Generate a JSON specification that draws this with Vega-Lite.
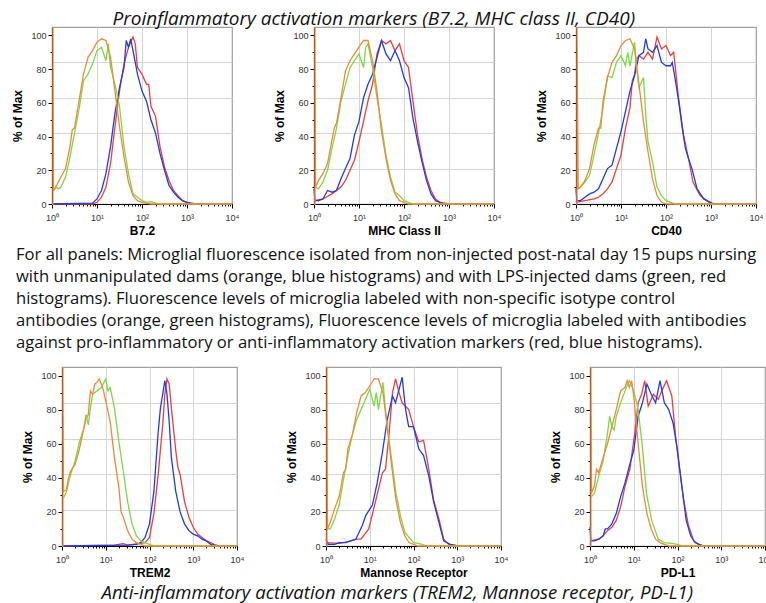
{
"$schema": "https://vega.github.io/schema/vega-lite/v6.json",
"padding": {"left": 10, "top": 9, "right": 0, "bottom": 0},
"background": "white",
"config": {
  "view": {"stroke": "#a0a0a0", "strokeWidth": 1.2},
  "axis": {"labelFont": "Liberation Sans", "labelFontSize": 9, "labelColor": "#333333", "titleFont": "Liberation Sans", "titleFontWeight": "bold", "titleFontSize": 12, "titleColor": "#000000", "domainColor": "#000000", "tickColor": "#000000", "gridColor": "#d4d4d4", "domainWidth": 1, "tickWidth": 1},
  "line": {"strokeWidth": 1.3, "clip": true}
},
"datasets": {"h": [
{"panel":"B7.2","series":"red","x":1,"y":0},{"panel":"B7.2","series":"red","x":7.94,"y":0},{"panel":"B7.2","series":"red","x":10,"y":1},{"panel":"B7.2","series":"red","x":12.6,"y":4},{"panel":"B7.2","series":"red","x":15.8,"y":10},{"panel":"B7.2","series":"red","x":20,"y":24},{"panel":"B7.2","series":"red","x":25.1,"y":46},{"panel":"B7.2","series":"red","x":31.6,"y":67},{"panel":"B7.2","series":"red","x":39.8,"y":83},{"panel":"B7.2","series":"red","x":50.1,"y":93},{"panel":"B7.2","series":"red","x":63.1,"y":99},{"panel":"B7.2","series":"red","x":70.8,"y":95},{"panel":"B7.2","series":"red","x":79.4,"y":81},{"panel":"B7.2","series":"red","x":100,"y":77},{"panel":"B7.2","series":"red","x":126,"y":71},{"panel":"B7.2","series":"red","x":141,"y":71},{"panel":"B7.2","series":"red","x":158,"y":58},{"panel":"B7.2","series":"red","x":200,"y":52},{"panel":"B7.2","series":"red","x":251,"y":34},{"panel":"B7.2","series":"red","x":316,"y":22},{"panel":"B7.2","series":"red","x":398,"y":14},{"panel":"B7.2","series":"red","x":501,"y":8},{"panel":"B7.2","series":"red","x":631,"y":5},{"panel":"B7.2","series":"red","x":794,"y":2},{"panel":"B7.2","series":"red","x":1000,"y":1},{"panel":"B7.2","series":"red","x":1259,"y":0},{"panel":"B7.2","series":"red","x":10000,"y":0},
{"panel":"B7.2","series":"blue","x":1,"y":0},{"panel":"B7.2","series":"blue","x":7.94,"y":0.5},{"panel":"B7.2","series":"blue","x":10,"y":3},{"panel":"B7.2","series":"blue","x":12.6,"y":8},{"panel":"B7.2","series":"blue","x":15.8,"y":18},{"panel":"B7.2","series":"blue","x":20,"y":34},{"panel":"B7.2","series":"blue","x":25.1,"y":54},{"panel":"B7.2","series":"blue","x":31.6,"y":69},{"panel":"B7.2","series":"blue","x":39.8,"y":81},{"panel":"B7.2","series":"blue","x":44.7,"y":97},{"panel":"B7.2","series":"blue","x":50.1,"y":93},{"panel":"B7.2","series":"blue","x":56.2,"y":98},{"panel":"B7.2","series":"blue","x":63.1,"y":91},{"panel":"B7.2","series":"blue","x":79.4,"y":77},{"panel":"B7.2","series":"blue","x":100,"y":67},{"panel":"B7.2","series":"blue","x":126,"y":61},{"panel":"B7.2","series":"blue","x":158,"y":50},{"panel":"B7.2","series":"blue","x":200,"y":42},{"panel":"B7.2","series":"blue","x":251,"y":30},{"panel":"B7.2","series":"blue","x":316,"y":20},{"panel":"B7.2","series":"blue","x":398,"y":11},{"panel":"B7.2","series":"blue","x":501,"y":7},{"panel":"B7.2","series":"blue","x":631,"y":4},{"panel":"B7.2","series":"blue","x":794,"y":2},{"panel":"B7.2","series":"blue","x":1000,"y":1},{"panel":"B7.2","series":"blue","x":1259,"y":0.5},{"panel":"B7.2","series":"blue","x":1585,"y":0},{"panel":"B7.2","series":"blue","x":10000,"y":0},
{"panel":"B7.2","series":"green","x":1.08,"y":8},{"panel":"B7.2","series":"green","x":1.26,"y":10},{"panel":"B7.2","series":"green","x":1.41,"y":9},{"panel":"B7.2","series":"green","x":1.58,"y":10},{"panel":"B7.2","series":"green","x":2,"y":16},{"panel":"B7.2","series":"green","x":2.51,"y":28},{"panel":"B7.2","series":"green","x":3.16,"y":42},{"panel":"B7.2","series":"green","x":3.98,"y":56},{"panel":"B7.2","series":"green","x":5.01,"y":73},{"panel":"B7.2","series":"green","x":6.31,"y":77},{"panel":"B7.2","series":"green","x":7.94,"y":83},{"panel":"B7.2","series":"green","x":10,"y":91},{"panel":"B7.2","series":"green","x":12.6,"y":93},{"panel":"B7.2","series":"green","x":15.8,"y":85},{"panel":"B7.2","series":"green","x":17.8,"y":95},{"panel":"B7.2","series":"green","x":20,"y":81},{"panel":"B7.2","series":"green","x":25.1,"y":71},{"panel":"B7.2","series":"green","x":31.6,"y":58},{"panel":"B7.2","series":"green","x":39.8,"y":34},{"panel":"B7.2","series":"green","x":50.1,"y":18},{"panel":"B7.2","series":"green","x":63.1,"y":6},{"panel":"B7.2","series":"green","x":79.4,"y":4},{"panel":"B7.2","series":"green","x":100,"y":2},{"panel":"B7.2","series":"green","x":126,"y":1},{"panel":"B7.2","series":"green","x":158,"y":1.4},{"panel":"B7.2","series":"green","x":200,"y":0.5},{"panel":"B7.2","series":"green","x":251,"y":0},{"panel":"B7.2","series":"green","x":10000,"y":0},
{"panel":"B7.2","series":"orange","x":1,"y":0},{"panel":"B7.2","series":"orange","x":1.05,"y":0},{"panel":"B7.2","series":"orange","x":1.05,"y":105},{"panel":"B7.2","series":"orange","x":1.08,"y":8},{"panel":"B7.2","series":"orange","x":1.26,"y":11},{"panel":"B7.2","series":"orange","x":1.58,"y":16},{"panel":"B7.2","series":"orange","x":2,"y":21},{"panel":"B7.2","series":"orange","x":2.51,"y":34},{"panel":"B7.2","series":"orange","x":2.82,"y":44},{"panel":"B7.2","series":"orange","x":3.16,"y":45},{"panel":"B7.2","series":"orange","x":3.98,"y":61},{"panel":"B7.2","series":"orange","x":5.01,"y":77},{"panel":"B7.2","series":"orange","x":6.31,"y":87},{"panel":"B7.2","series":"orange","x":7.94,"y":91},{"panel":"B7.2","series":"orange","x":10,"y":96},{"panel":"B7.2","series":"orange","x":12.6,"y":98},{"panel":"B7.2","series":"orange","x":15.8,"y":97},{"panel":"B7.2","series":"orange","x":20,"y":87},{"panel":"B7.2","series":"orange","x":25.1,"y":67},{"panel":"B7.2","series":"orange","x":31.6,"y":46},{"panel":"B7.2","series":"orange","x":39.8,"y":28},{"panel":"B7.2","series":"orange","x":50.1,"y":13},{"panel":"B7.2","series":"orange","x":63.1,"y":5},{"panel":"B7.2","series":"orange","x":79.4,"y":2},{"panel":"B7.2","series":"orange","x":100,"y":1},{"panel":"B7.2","series":"orange","x":158,"y":0},{"panel":"B7.2","series":"orange","x":10000,"y":0},

{"panel":"MHC","series":"red","x":1,"y":2},{"panel":"MHC","series":"red","x":1.58,"y":3},{"panel":"MHC","series":"red","x":2.51,"y":6},{"panel":"MHC","series":"red","x":3.98,"y":10},{"panel":"MHC","series":"red","x":5.01,"y":14},{"panel":"MHC","series":"red","x":6.31,"y":20},{"panel":"MHC","series":"red","x":7.94,"y":26},{"panel":"MHC","series":"red","x":10,"y":37},{"panel":"MHC","series":"red","x":12.6,"y":49},{"panel":"MHC","series":"red","x":15.8,"y":61},{"panel":"MHC","series":"red","x":20,"y":71},{"panel":"MHC","series":"red","x":25.1,"y":89},{"panel":"MHC","series":"red","x":31.6,"y":97},{"panel":"MHC","series":"red","x":39.8,"y":95},{"panel":"MHC","series":"red","x":50.1,"y":97},{"panel":"MHC","series":"red","x":63.1,"y":91},{"panel":"MHC","series":"red","x":79.4,"y":95},{"panel":"MHC","series":"red","x":100,"y":85},{"panel":"MHC","series":"red","x":126,"y":81},{"panel":"MHC","series":"red","x":158,"y":61},{"panel":"MHC","series":"red","x":200,"y":41},{"panel":"MHC","series":"red","x":251,"y":27},{"panel":"MHC","series":"red","x":316,"y":16},{"panel":"MHC","series":"red","x":398,"y":8},{"panel":"MHC","series":"red","x":501,"y":3},{"panel":"MHC","series":"red","x":631,"y":1},{"panel":"MHC","series":"red","x":1000,"y":0},{"panel":"MHC","series":"red","x":10000,"y":0},
{"panel":"MHC","series":"blue","x":1,"y":9},{"panel":"MHC","series":"blue","x":1.05,"y":2},{"panel":"MHC","series":"blue","x":1.26,"y":2},{"panel":"MHC","series":"blue","x":1.58,"y":3},{"panel":"MHC","series":"blue","x":2,"y":8},{"panel":"MHC","series":"blue","x":2.51,"y":7},{"panel":"MHC","series":"blue","x":3.16,"y":8},{"panel":"MHC","series":"blue","x":3.98,"y":15},{"panel":"MHC","series":"blue","x":5.01,"y":21},{"panel":"MHC","series":"blue","x":6.31,"y":27},{"panel":"MHC","series":"blue","x":7.94,"y":41},{"panel":"MHC","series":"blue","x":10,"y":49},{"panel":"MHC","series":"blue","x":12.6,"y":63},{"panel":"MHC","series":"blue","x":15.8,"y":71},{"panel":"MHC","series":"blue","x":20,"y":77},{"panel":"MHC","series":"blue","x":25.1,"y":87},{"panel":"MHC","series":"blue","x":31.6,"y":97},{"panel":"MHC","series":"blue","x":39.8,"y":89},{"panel":"MHC","series":"blue","x":50.1,"y":85},{"panel":"MHC","series":"blue","x":63.1,"y":91},{"panel":"MHC","series":"blue","x":79.4,"y":85},{"panel":"MHC","series":"blue","x":100,"y":75},{"panel":"MHC","series":"blue","x":126,"y":69},{"panel":"MHC","series":"blue","x":158,"y":51},{"panel":"MHC","series":"blue","x":200,"y":37},{"panel":"MHC","series":"blue","x":251,"y":25},{"panel":"MHC","series":"blue","x":316,"y":14},{"panel":"MHC","series":"blue","x":398,"y":6},{"panel":"MHC","series":"blue","x":501,"y":2},{"panel":"MHC","series":"blue","x":631,"y":1},{"panel":"MHC","series":"blue","x":794,"y":0},{"panel":"MHC","series":"blue","x":10000,"y":0},
{"panel":"MHC","series":"green","x":1.08,"y":10},{"panel":"MHC","series":"green","x":1.26,"y":9},{"panel":"MHC","series":"green","x":1.58,"y":13},{"panel":"MHC","series":"green","x":2,"y":20},{"panel":"MHC","series":"green","x":2.51,"y":33},{"panel":"MHC","series":"green","x":3.16,"y":45},{"panel":"MHC","series":"green","x":3.98,"y":61},{"panel":"MHC","series":"green","x":5.01,"y":71},{"panel":"MHC","series":"green","x":6.31,"y":81},{"panel":"MHC","series":"green","x":7.94,"y":85},{"panel":"MHC","series":"green","x":10,"y":89},{"panel":"MHC","series":"green","x":12.6,"y":81},{"panel":"MHC","series":"green","x":14.1,"y":93},{"panel":"MHC","series":"green","x":15.8,"y":95},{"panel":"MHC","series":"green","x":20,"y":81},{"panel":"MHC","series":"green","x":25.1,"y":63},{"panel":"MHC","series":"green","x":31.6,"y":47},{"panel":"MHC","series":"green","x":39.8,"y":29},{"panel":"MHC","series":"green","x":50.1,"y":16},{"panel":"MHC","series":"green","x":63.1,"y":7},{"panel":"MHC","series":"green","x":79.4,"y":5},{"panel":"MHC","series":"green","x":100,"y":2},{"panel":"MHC","series":"green","x":126,"y":1},{"panel":"MHC","series":"green","x":158,"y":0},{"panel":"MHC","series":"green","x":10000,"y":0},
{"panel":"MHC","series":"orange","x":1,"y":0},{"panel":"MHC","series":"orange","x":1.05,"y":0},{"panel":"MHC","series":"orange","x":1.05,"y":105},{"panel":"MHC","series":"orange","x":1.08,"y":10},{"panel":"MHC","series":"orange","x":1.26,"y":14},{"panel":"MHC","series":"orange","x":1.58,"y":18},{"panel":"MHC","series":"orange","x":2,"y":24},{"panel":"MHC","series":"orange","x":2.51,"y":38},{"panel":"MHC","series":"orange","x":2.82,"y":45},{"panel":"MHC","series":"orange","x":3.16,"y":48},{"panel":"MHC","series":"orange","x":3.98,"y":63},{"panel":"MHC","series":"orange","x":5.01,"y":79},{"panel":"MHC","series":"orange","x":6.31,"y":85},{"panel":"MHC","series":"orange","x":7.94,"y":89},{"panel":"MHC","series":"orange","x":10,"y":93},{"panel":"MHC","series":"orange","x":12.6,"y":97},{"panel":"MHC","series":"orange","x":15.8,"y":97},{"panel":"MHC","series":"orange","x":20,"y":85},{"panel":"MHC","series":"orange","x":25.1,"y":67},{"panel":"MHC","series":"orange","x":31.6,"y":43},{"panel":"MHC","series":"orange","x":39.8,"y":27},{"panel":"MHC","series":"orange","x":50.1,"y":14},{"panel":"MHC","series":"orange","x":63.1,"y":6},{"panel":"MHC","series":"orange","x":79.4,"y":2},{"panel":"MHC","series":"orange","x":100,"y":1},{"panel":"MHC","series":"orange","x":126,"y":0},{"panel":"MHC","series":"orange","x":10000,"y":0},

{"panel":"CD40","series":"red","x":1,"y":1},{"panel":"CD40","series":"red","x":1.58,"y":2},{"panel":"CD40","series":"red","x":2.51,"y":3},{"panel":"CD40","series":"red","x":3.16,"y":4},{"panel":"CD40","series":"red","x":3.98,"y":6},{"panel":"CD40","series":"red","x":5.01,"y":9},{"panel":"CD40","series":"red","x":6.31,"y":13},{"panel":"CD40","series":"red","x":7.94,"y":21},{"panel":"CD40","series":"red","x":10,"y":29},{"panel":"CD40","series":"red","x":12.6,"y":45},{"panel":"CD40","series":"red","x":15.8,"y":57},{"panel":"CD40","series":"red","x":17.8,"y":73},{"panel":"CD40","series":"red","x":20,"y":77},{"panel":"CD40","series":"red","x":22.4,"y":86},{"panel":"CD40","series":"red","x":25.1,"y":88},{"panel":"CD40","series":"red","x":31.6,"y":86},{"panel":"CD40","series":"red","x":39.8,"y":90},{"panel":"CD40","series":"red","x":50.1,"y":86},{"panel":"CD40","series":"red","x":63.1,"y":99},{"panel":"CD40","series":"red","x":79.4,"y":92},{"panel":"CD40","series":"red","x":100,"y":94},{"panel":"CD40","series":"red","x":126,"y":88},{"panel":"CD40","series":"red","x":148,"y":90},{"panel":"CD40","series":"red","x":190,"y":63},{"panel":"CD40","series":"red","x":245,"y":41},{"panel":"CD40","series":"red","x":316,"y":27},{"panel":"CD40","series":"red","x":398,"y":13},{"panel":"CD40","series":"red","x":575,"y":5},{"panel":"CD40","series":"red","x":891,"y":1},{"panel":"CD40","series":"red","x":1000,"y":0},{"panel":"CD40","series":"red","x":10000,"y":0},
{"panel":"CD40","series":"blue","x":1,"y":9},{"panel":"CD40","series":"blue","x":1.05,"y":2},{"panel":"CD40","series":"blue","x":1.26,"y":2},{"panel":"CD40","series":"blue","x":1.58,"y":4},{"panel":"CD40","series":"blue","x":2,"y":6},{"panel":"CD40","series":"blue","x":2.51,"y":7},{"panel":"CD40","series":"blue","x":3.16,"y":9},{"panel":"CD40","series":"blue","x":3.98,"y":15},{"panel":"CD40","series":"blue","x":5.01,"y":21},{"panel":"CD40","series":"blue","x":6.31,"y":23},{"panel":"CD40","series":"blue","x":7.94,"y":33},{"panel":"CD40","series":"blue","x":10,"y":43},{"panel":"CD40","series":"blue","x":12.6,"y":55},{"panel":"CD40","series":"blue","x":15.8,"y":67},{"panel":"CD40","series":"blue","x":20,"y":76},{"panel":"CD40","series":"blue","x":25.1,"y":88},{"panel":"CD40","series":"blue","x":31.6,"y":90},{"panel":"CD40","series":"blue","x":35.5,"y":98},{"panel":"CD40","series":"blue","x":39.8,"y":92},{"panel":"CD40","series":"blue","x":50.1,"y":90},{"panel":"CD40","series":"blue","x":63.1,"y":94},{"panel":"CD40","series":"blue","x":79.4,"y":84},{"panel":"CD40","series":"blue","x":100,"y":82},{"panel":"CD40","series":"blue","x":126,"y":82},{"panel":"CD40","series":"blue","x":138,"y":84},{"panel":"CD40","series":"blue","x":158,"y":75},{"panel":"CD40","series":"blue","x":191,"y":61},{"panel":"CD40","series":"blue","x":230,"y":45},{"panel":"CD40","series":"blue","x":270,"y":33},{"panel":"CD40","series":"blue","x":316,"y":27},{"panel":"CD40","series":"blue","x":377,"y":21},{"panel":"CD40","series":"blue","x":490,"y":9},{"panel":"CD40","series":"blue","x":690,"y":3},{"panel":"CD40","series":"blue","x":1050,"y":0.5},{"panel":"CD40","series":"blue","x":1259,"y":0},{"panel":"CD40","series":"blue","x":10000,"y":0},
{"panel":"CD40","series":"green","x":1.08,"y":9},{"panel":"CD40","series":"green","x":1.26,"y":10},{"panel":"CD40","series":"green","x":1.58,"y":13},{"panel":"CD40","series":"green","x":2,"y":17},{"panel":"CD40","series":"green","x":2.51,"y":29},{"panel":"CD40","series":"green","x":3.16,"y":42},{"panel":"CD40","series":"green","x":3.98,"y":57},{"panel":"CD40","series":"green","x":5.01,"y":76},{"panel":"CD40","series":"green","x":6.31,"y":75},{"panel":"CD40","series":"green","x":7.94,"y":84},{"panel":"CD40","series":"green","x":10,"y":88},{"panel":"CD40","series":"green","x":12.6,"y":82},{"panel":"CD40","series":"green","x":14.1,"y":90},{"panel":"CD40","series":"green","x":15.8,"y":82},{"panel":"CD40","series":"green","x":20,"y":96},{"panel":"CD40","series":"green","x":22.4,"y":80},{"panel":"CD40","series":"green","x":25.1,"y":69},{"panel":"CD40","series":"green","x":31.6,"y":75},{"panel":"CD40","series":"green","x":35.5,"y":53},{"panel":"CD40","series":"green","x":39.8,"y":37},{"panel":"CD40","series":"green","x":50.1,"y":25},{"panel":"CD40","series":"green","x":63.1,"y":10},{"panel":"CD40","series":"green","x":79.4,"y":5},{"panel":"CD40","series":"green","x":100,"y":2},{"panel":"CD40","series":"green","x":126,"y":1},{"panel":"CD40","series":"green","x":158,"y":0},{"panel":"CD40","series":"green","x":10000,"y":0},
{"panel":"CD40","series":"orange","x":1,"y":0},{"panel":"CD40","series":"orange","x":1.05,"y":0},{"panel":"CD40","series":"orange","x":1.05,"y":105},{"panel":"CD40","series":"orange","x":1.12,"y":9},{"panel":"CD40","series":"orange","x":1.26,"y":10},{"panel":"CD40","series":"orange","x":1.58,"y":14},{"panel":"CD40","series":"orange","x":2,"y":21},{"panel":"CD40","series":"orange","x":2.51,"y":35},{"panel":"CD40","series":"orange","x":3.16,"y":45},{"panel":"CD40","series":"orange","x":3.55,"y":45},{"panel":"CD40","series":"orange","x":3.98,"y":61},{"panel":"CD40","series":"orange","x":5.01,"y":75},{"panel":"CD40","series":"orange","x":6.31,"y":84},{"panel":"CD40","series":"orange","x":7.94,"y":88},{"panel":"CD40","series":"orange","x":10,"y":94},{"panel":"CD40","series":"orange","x":12.6,"y":97},{"panel":"CD40","series":"orange","x":15.8,"y":98},{"panel":"CD40","series":"orange","x":20,"y":92},{"panel":"CD40","series":"orange","x":25.1,"y":71},{"panel":"CD40","series":"orange","x":31.6,"y":49},{"panel":"CD40","series":"orange","x":39.8,"y":31},{"panel":"CD40","series":"orange","x":50.1,"y":15},{"panel":"CD40","series":"orange","x":63.1,"y":5},{"panel":"CD40","series":"orange","x":79.4,"y":1},{"panel":"CD40","series":"orange","x":100,"y":0},{"panel":"CD40","series":"orange","x":10000,"y":0},

{"panel":"TREM2","series":"red","x":1,"y":0},{"panel":"TREM2","series":"red","x":15.8,"y":0.5},{"panel":"TREM2","series":"red","x":25.1,"y":1.4},{"panel":"TREM2","series":"red","x":31.6,"y":0.5},{"panel":"TREM2","series":"red","x":79.4,"y":2},{"panel":"TREM2","series":"red","x":100,"y":5},{"panel":"TREM2","series":"red","x":126,"y":19},{"panel":"TREM2","series":"red","x":158,"y":42},{"panel":"TREM2","series":"red","x":200,"y":71},{"panel":"TREM2","series":"red","x":224,"y":89},{"panel":"TREM2","series":"red","x":251,"y":98},{"panel":"TREM2","series":"red","x":282,"y":95},{"panel":"TREM2","series":"red","x":316,"y":81},{"panel":"TREM2","series":"red","x":398,"y":56},{"panel":"TREM2","series":"red","x":447,"y":46},{"panel":"TREM2","series":"red","x":501,"y":42},{"panel":"TREM2","series":"red","x":631,"y":26},{"panel":"TREM2","series":"red","x":794,"y":17},{"panel":"TREM2","series":"red","x":1000,"y":11},{"panel":"TREM2","series":"red","x":1259,"y":7},{"panel":"TREM2","series":"red","x":1585,"y":5},{"panel":"TREM2","series":"red","x":1995,"y":3},{"panel":"TREM2","series":"red","x":2512,"y":2},{"panel":"TREM2","series":"red","x":3162,"y":0.6},{"panel":"TREM2","series":"red","x":3981,"y":0},{"panel":"TREM2","series":"red","x":10000,"y":0},
{"panel":"TREM2","series":"blue","x":1,"y":0},{"panel":"TREM2","series":"blue","x":31.6,"y":0.5},{"panel":"TREM2","series":"blue","x":50.1,"y":1},{"panel":"TREM2","series":"blue","x":63.1,"y":2},{"panel":"TREM2","series":"blue","x":79.4,"y":5},{"panel":"TREM2","series":"blue","x":100,"y":13},{"panel":"TREM2","series":"blue","x":126,"y":32},{"panel":"TREM2","series":"blue","x":158,"y":67},{"panel":"TREM2","series":"blue","x":178,"y":81},{"panel":"TREM2","series":"blue","x":200,"y":89},{"panel":"TREM2","series":"blue","x":224,"y":97},{"panel":"TREM2","series":"blue","x":251,"y":89},{"panel":"TREM2","series":"blue","x":282,"y":73},{"panel":"TREM2","series":"blue","x":316,"y":52},{"panel":"TREM2","series":"blue","x":398,"y":32},{"panel":"TREM2","series":"blue","x":501,"y":20},{"panel":"TREM2","series":"blue","x":631,"y":13},{"panel":"TREM2","series":"blue","x":794,"y":9},{"panel":"TREM2","series":"blue","x":1000,"y":7},{"panel":"TREM2","series":"blue","x":1259,"y":6},{"panel":"TREM2","series":"blue","x":1585,"y":4},{"panel":"TREM2","series":"blue","x":1995,"y":3},{"panel":"TREM2","series":"blue","x":2512,"y":1},{"panel":"TREM2","series":"blue","x":3162,"y":0.4},{"panel":"TREM2","series":"blue","x":3981,"y":0},{"panel":"TREM2","series":"blue","x":10000,"y":0},
{"panel":"TREM2","series":"green","x":1.08,"y":28},{"panel":"TREM2","series":"green","x":1.26,"y":32},{"panel":"TREM2","series":"green","x":1.58,"y":42},{"panel":"TREM2","series":"green","x":2,"y":50},{"panel":"TREM2","series":"green","x":2.51,"y":61},{"panel":"TREM2","series":"green","x":3.16,"y":69},{"panel":"TREM2","series":"green","x":3.55,"y":77},{"panel":"TREM2","series":"green","x":3.98,"y":71},{"panel":"TREM2","series":"green","x":4.47,"y":81},{"panel":"TREM2","series":"green","x":5.01,"y":89},{"panel":"TREM2","series":"green","x":6.31,"y":91},{"panel":"TREM2","series":"green","x":7.94,"y":93},{"panel":"TREM2","series":"green","x":10,"y":98},{"panel":"TREM2","series":"green","x":11.2,"y":91},{"panel":"TREM2","series":"green","x":12.6,"y":93},{"panel":"TREM2","series":"green","x":15.8,"y":81},{"panel":"TREM2","series":"green","x":20,"y":61},{"panel":"TREM2","series":"green","x":25.1,"y":44},{"panel":"TREM2","series":"green","x":31.6,"y":26},{"panel":"TREM2","series":"green","x":39.8,"y":13},{"panel":"TREM2","series":"green","x":50.1,"y":6},{"panel":"TREM2","series":"green","x":63.1,"y":3},{"panel":"TREM2","series":"green","x":79.4,"y":2},{"panel":"TREM2","series":"green","x":100,"y":1},{"panel":"TREM2","series":"green","x":126,"y":0},{"panel":"TREM2","series":"green","x":10000,"y":0},
{"panel":"TREM2","series":"orange","x":1,"y":0},{"panel":"TREM2","series":"orange","x":1.05,"y":0},{"panel":"TREM2","series":"orange","x":1.05,"y":105},{"panel":"TREM2","series":"orange","x":1.08,"y":32},{"panel":"TREM2","series":"orange","x":1.26,"y":33},{"panel":"TREM2","series":"orange","x":1.41,"y":40},{"panel":"TREM2","series":"orange","x":1.58,"y":44},{"panel":"TREM2","series":"orange","x":2,"y":48},{"panel":"TREM2","series":"orange","x":2.51,"y":57},{"panel":"TREM2","series":"orange","x":3.16,"y":69},{"panel":"TREM2","series":"orange","x":3.55,"y":75},{"panel":"TREM2","series":"orange","x":3.98,"y":77},{"panel":"TREM2","series":"orange","x":4.47,"y":91},{"panel":"TREM2","series":"orange","x":5.01,"y":89},{"panel":"TREM2","series":"orange","x":5.62,"y":95},{"panel":"TREM2","series":"orange","x":6.31,"y":96},{"panel":"TREM2","series":"orange","x":7.08,"y":98},{"panel":"TREM2","series":"orange","x":7.94,"y":95},{"panel":"TREM2","series":"orange","x":8.91,"y":91},{"panel":"TREM2","series":"orange","x":10,"y":85},{"panel":"TREM2","series":"orange","x":12.6,"y":73},{"panel":"TREM2","series":"orange","x":15.8,"y":52},{"panel":"TREM2","series":"orange","x":20,"y":34},{"panel":"TREM2","series":"orange","x":22.4,"y":20},{"panel":"TREM2","series":"orange","x":25.1,"y":17},{"panel":"TREM2","series":"orange","x":31.6,"y":9},{"panel":"TREM2","series":"orange","x":39.8,"y":4},{"panel":"TREM2","series":"orange","x":50.1,"y":2},{"panel":"TREM2","series":"orange","x":63.1,"y":1},{"panel":"TREM2","series":"orange","x":79.4,"y":0},{"panel":"TREM2","series":"orange","x":10000,"y":0},

{"panel":"MR","series":"red","x":1,"y":2},{"panel":"MR","series":"red","x":2,"y":1.5},{"panel":"MR","series":"red","x":3.16,"y":2.5},{"panel":"MR","series":"red","x":5.01,"y":4},{"panel":"MR","series":"red","x":6.31,"y":4},{"panel":"MR","series":"red","x":9.5,"y":10},{"panel":"MR","series":"red","x":13.8,"y":27},{"panel":"MR","series":"red","x":19.5,"y":43},{"panel":"MR","series":"red","x":22.9,"y":45},{"panel":"MR","series":"red","x":27.5,"y":65},{"panel":"MR","series":"red","x":33.1,"y":90},{"panel":"MR","series":"red","x":38.9,"y":98},{"panel":"MR","series":"red","x":46.8,"y":90},{"panel":"MR","series":"red","x":55,"y":84},{"panel":"MR","series":"red","x":77.6,"y":80},{"panel":"MR","series":"red","x":100,"y":70},{"panel":"MR","series":"red","x":132,"y":61},{"panel":"MR","series":"red","x":170,"y":62},{"panel":"MR","series":"red","x":224,"y":45},{"panel":"MR","series":"red","x":288,"y":27},{"panel":"MR","series":"red","x":380,"y":16},{"panel":"MR","series":"red","x":490,"y":4},{"panel":"MR","series":"red","x":631,"y":1},{"panel":"MR","series":"red","x":794,"y":0},{"panel":"MR","series":"red","x":10000,"y":0},
{"panel":"MR","series":"blue","x":1,"y":4},{"panel":"MR","series":"blue","x":1.12,"y":1},{"panel":"MR","series":"blue","x":1.58,"y":1},{"panel":"MR","series":"blue","x":2,"y":2},{"panel":"MR","series":"blue","x":2.82,"y":2},{"panel":"MR","series":"blue","x":4.79,"y":4},{"panel":"MR","series":"blue","x":6.76,"y":12},{"panel":"MR","series":"blue","x":8.13,"y":18},{"panel":"MR","series":"blue","x":11.5,"y":24},{"panel":"MR","series":"blue","x":14.8,"y":37},{"panel":"MR","series":"blue","x":19.5,"y":55},{"panel":"MR","series":"blue","x":25.1,"y":74},{"panel":"MR","series":"blue","x":33.1,"y":88},{"panel":"MR","series":"blue","x":38.9,"y":84},{"panel":"MR","series":"blue","x":46.8,"y":92},{"panel":"MR","series":"blue","x":55,"y":99},{"panel":"MR","series":"blue","x":66,"y":80},{"panel":"MR","series":"blue","x":77.6,"y":70},{"panel":"MR","series":"blue","x":100,"y":70},{"panel":"MR","series":"blue","x":132,"y":57},{"panel":"MR","series":"blue","x":170,"y":53},{"panel":"MR","series":"blue","x":224,"y":41},{"panel":"MR","series":"blue","x":288,"y":26},{"panel":"MR","series":"blue","x":380,"y":14},{"panel":"MR","series":"blue","x":490,"y":3},{"panel":"MR","series":"blue","x":692,"y":1},{"panel":"MR","series":"blue","x":891,"y":0.5},{"panel":"MR","series":"blue","x":1000,"y":0},{"panel":"MR","series":"blue","x":10000,"y":0},
{"panel":"MR","series":"green","x":1.08,"y":10},{"panel":"MR","series":"green","x":1.26,"y":10},{"panel":"MR","series":"green","x":1.58,"y":16},{"panel":"MR","series":"green","x":2,"y":24},{"panel":"MR","series":"green","x":2.51,"y":39},{"panel":"MR","series":"green","x":3.16,"y":53},{"panel":"MR","series":"green","x":3.98,"y":65},{"panel":"MR","series":"green","x":5.01,"y":74},{"panel":"MR","series":"green","x":6.31,"y":80},{"panel":"MR","series":"green","x":7.94,"y":86},{"panel":"MR","series":"green","x":10,"y":92},{"panel":"MR","series":"green","x":12.6,"y":82},{"panel":"MR","series":"green","x":14.1,"y":90},{"panel":"MR","series":"green","x":15.8,"y":80},{"panel":"MR","series":"green","x":20,"y":96},{"panel":"MR","series":"green","x":25.1,"y":70},{"panel":"MR","series":"green","x":31.6,"y":51},{"panel":"MR","series":"green","x":39.8,"y":31},{"panel":"MR","series":"green","x":50.1,"y":18},{"panel":"MR","series":"green","x":63.1,"y":8},{"panel":"MR","series":"green","x":79.4,"y":5},{"panel":"MR","series":"green","x":100,"y":2},{"panel":"MR","series":"green","x":126,"y":1.5},{"panel":"MR","series":"green","x":158,"y":1},{"panel":"MR","series":"green","x":200,"y":0},{"panel":"MR","series":"green","x":10000,"y":0},
{"panel":"MR","series":"orange","x":1,"y":0},{"panel":"MR","series":"orange","x":1.05,"y":0},{"panel":"MR","series":"orange","x":1.05,"y":105},{"panel":"MR","series":"orange","x":1.08,"y":10},{"panel":"MR","series":"orange","x":1.26,"y":14},{"panel":"MR","series":"orange","x":1.58,"y":22},{"panel":"MR","series":"orange","x":2,"y":29},{"panel":"MR","series":"orange","x":2.51,"y":43},{"panel":"MR","series":"orange","x":2.82,"y":45},{"panel":"MR","series":"orange","x":3.16,"y":57},{"panel":"MR","series":"orange","x":3.98,"y":65},{"panel":"MR","series":"orange","x":5.01,"y":78},{"panel":"MR","series":"orange","x":6.31,"y":88},{"panel":"MR","series":"orange","x":7.94,"y":90},{"panel":"MR","series":"orange","x":10,"y":94},{"panel":"MR","series":"orange","x":12.6,"y":98},{"panel":"MR","series":"orange","x":15.8,"y":98},{"panel":"MR","series":"orange","x":20,"y":90},{"panel":"MR","series":"orange","x":25.1,"y":70},{"panel":"MR","series":"orange","x":31.6,"y":47},{"panel":"MR","series":"orange","x":39.8,"y":27},{"panel":"MR","series":"orange","x":50.1,"y":14},{"panel":"MR","series":"orange","x":63.1,"y":6},{"panel":"MR","series":"orange","x":79.4,"y":2},{"panel":"MR","series":"orange","x":100,"y":1},{"panel":"MR","series":"orange","x":126,"y":0},{"panel":"MR","series":"orange","x":10000,"y":0},

{"panel":"PDL1","series":"red","x":1,"y":3},{"panel":"PDL1","series":"red","x":1.58,"y":4},{"panel":"PDL1","series":"red","x":2,"y":6},{"panel":"PDL1","series":"red","x":2.51,"y":9},{"panel":"PDL1","series":"red","x":3.16,"y":11},{"panel":"PDL1","series":"red","x":3.98,"y":15},{"panel":"PDL1","series":"red","x":5.01,"y":23},{"panel":"PDL1","series":"red","x":6.31,"y":35},{"panel":"PDL1","series":"red","x":8.13,"y":45},{"panel":"PDL1","series":"red","x":10.5,"y":66},{"panel":"PDL1","series":"red","x":12.6,"y":84},{"panel":"PDL1","series":"red","x":15.1,"y":89},{"panel":"PDL1","series":"red","x":17.8,"y":97},{"panel":"PDL1","series":"red","x":21.4,"y":82},{"panel":"PDL1","series":"red","x":28.2,"y":89},{"panel":"PDL1","series":"red","x":36.3,"y":86},{"panel":"PDL1","series":"red","x":43.7,"y":91},{"panel":"PDL1","series":"red","x":56.2,"y":97},{"panel":"PDL1","series":"red","x":74.1,"y":88},{"panel":"PDL1","series":"red","x":89.1,"y":66},{"panel":"PDL1","series":"red","x":105,"y":50},{"panel":"PDL1","series":"red","x":138,"y":27},{"panel":"PDL1","series":"red","x":178,"y":12},{"panel":"PDL1","series":"red","x":234,"y":3},{"panel":"PDL1","series":"red","x":302,"y":1},{"panel":"PDL1","series":"red","x":398,"y":0},{"panel":"PDL1","series":"red","x":10000,"y":0},
{"panel":"PDL1","series":"blue","x":1,"y":11},{"panel":"PDL1","series":"blue","x":1.05,"y":3},{"panel":"PDL1","series":"blue","x":1.26,"y":3},{"panel":"PDL1","series":"blue","x":1.58,"y":4},{"panel":"PDL1","series":"blue","x":2,"y":6},{"panel":"PDL1","series":"blue","x":2.24,"y":10},{"panel":"PDL1","series":"blue","x":2.51,"y":10},{"panel":"PDL1","series":"blue","x":3.16,"y":13},{"panel":"PDL1","series":"blue","x":3.98,"y":19},{"panel":"PDL1","series":"blue","x":5.01,"y":29},{"panel":"PDL1","series":"blue","x":6.31,"y":37},{"panel":"PDL1","series":"blue","x":7.94,"y":47},{"panel":"PDL1","series":"blue","x":10,"y":56},{"panel":"PDL1","series":"blue","x":12.6,"y":76},{"panel":"PDL1","series":"blue","x":15.8,"y":84},{"panel":"PDL1","series":"blue","x":20,"y":95},{"panel":"PDL1","series":"blue","x":25.1,"y":89},{"panel":"PDL1","series":"blue","x":31.6,"y":84},{"panel":"PDL1","series":"blue","x":39.8,"y":97},{"panel":"PDL1","series":"blue","x":50.1,"y":84},{"panel":"PDL1","series":"blue","x":63.1,"y":80},{"panel":"PDL1","series":"blue","x":79.4,"y":72},{"panel":"PDL1","series":"blue","x":100,"y":56},{"panel":"PDL1","series":"blue","x":126,"y":35},{"panel":"PDL1","series":"blue","x":158,"y":15},{"panel":"PDL1","series":"blue","x":200,"y":6},{"panel":"PDL1","series":"blue","x":251,"y":2},{"panel":"PDL1","series":"blue","x":316,"y":1},{"panel":"PDL1","series":"blue","x":398,"y":0},{"panel":"PDL1","series":"blue","x":10000,"y":0},
{"panel":"PDL1","series":"green","x":1.08,"y":29},{"panel":"PDL1","series":"green","x":1.26,"y":31},{"panel":"PDL1","series":"green","x":1.58,"y":41},{"panel":"PDL1","series":"green","x":2,"y":50},{"panel":"PDL1","series":"green","x":2.24,"y":58},{"panel":"PDL1","series":"green","x":2.51,"y":66},{"panel":"PDL1","series":"green","x":2.82,"y":76},{"panel":"PDL1","series":"green","x":3.16,"y":70},{"panel":"PDL1","series":"green","x":3.55,"y":68},{"panel":"PDL1","series":"green","x":3.98,"y":76},{"panel":"PDL1","series":"green","x":5.01,"y":84},{"panel":"PDL1","series":"green","x":6.31,"y":91},{"panel":"PDL1","series":"green","x":7.94,"y":97},{"panel":"PDL1","series":"green","x":10,"y":91},{"panel":"PDL1","series":"green","x":12.6,"y":80},{"panel":"PDL1","series":"green","x":15.8,"y":58},{"panel":"PDL1","series":"green","x":19.5,"y":31},{"panel":"PDL1","series":"green","x":25.7,"y":15},{"panel":"PDL1","series":"green","x":36.3,"y":4},{"panel":"PDL1","series":"green","x":50.1,"y":2},{"panel":"PDL1","series":"green","x":79.4,"y":1.4},{"panel":"PDL1","series":"green","x":100,"y":1},{"panel":"PDL1","series":"green","x":126,"y":0},{"panel":"PDL1","series":"green","x":10000,"y":0},
{"panel":"PDL1","series":"orange","x":1,"y":0},{"panel":"PDL1","series":"orange","x":1.05,"y":0},{"panel":"PDL1","series":"orange","x":1.05,"y":105},{"panel":"PDL1","series":"orange","x":1.08,"y":31},{"panel":"PDL1","series":"orange","x":1.26,"y":35},{"panel":"PDL1","series":"orange","x":1.41,"y":45},{"panel":"PDL1","series":"orange","x":1.58,"y":43},{"panel":"PDL1","series":"orange","x":2,"y":52},{"panel":"PDL1","series":"orange","x":2.51,"y":60},{"panel":"PDL1","series":"orange","x":3.16,"y":70},{"panel":"PDL1","series":"orange","x":3.98,"y":80},{"panel":"PDL1","series":"orange","x":5.01,"y":91},{"panel":"PDL1","series":"orange","x":6.31,"y":93},{"panel":"PDL1","series":"orange","x":7.08,"y":97},{"panel":"PDL1","series":"orange","x":7.94,"y":93},{"panel":"PDL1","series":"orange","x":8.91,"y":97},{"panel":"PDL1","series":"orange","x":10,"y":88},{"panel":"PDL1","series":"orange","x":12.6,"y":60},{"panel":"PDL1","series":"orange","x":15.8,"y":35},{"panel":"PDL1","series":"orange","x":20,"y":19},{"panel":"PDL1","series":"orange","x":25.1,"y":10},{"panel":"PDL1","series":"orange","x":31.6,"y":4},{"panel":"PDL1","series":"orange","x":39.8,"y":2},{"panel":"PDL1","series":"orange","x":50.1,"y":1},{"panel":"PDL1","series":"orange","x":63.1,"y":0},{"panel":"PDL1","series":"orange","x":10000,"y":0}
]},
"title": {"text": "Anti-inflammatory activation markers (TREM2, Mannose receptor, PD-L1)", "orient": "bottom", "font": "Open Sans", "fontStyle": "italic", "fontWeight": "normal", "fontSize": 18.5, "color": "#111111", "anchor": "middle", "offset": 5, "dx": 6},
"columns": 1,
"spacing": 10,
"concat": [
 {"title": {"text": "Proinflammatory activation markers (B7.2, MHC class II, CD40)", "font": "Open Sans", "fontStyle": "italic", "fontWeight": "normal", "fontSize": 19, "color": "#111111", "anchor": "middle", "offset": -5, "dx": -13},
  "spacing": 0,
  "hconcat": [
   {"width": 1, "height": 1, "data": {"values": []}, "mark": {"type": "point", "opacity": 0}, "view": {"stroke": null}},
   {"spacing": 33,
    "hconcat": [
   {"width": 180, "height": 177, "data": {"name": "h"}, "transform": [{"filter": "datum.panel == 'B7.2'"}], "mark": {"type": "line"},
    "encoding": {
     "x": {"field": "x", "type": "quantitative", "title": "B7.2", "scale": {"type": "log", "domain": [1, 10000]}, "axis": {"values": [1,2,3,4,5,6,7,8,9,10,20,30,40,50,60,70,80,90,100,200,300,400,500,600,700,800,900,1000,2000,3000,4000,5000,6000,7000,8000,9000,10000], "labelExpr": "datum.value==1?'10⁰':datum.value==10?'10¹':datum.value==100?'10²':datum.value==1000?'10³':datum.value==10000?'10⁴':''", "labelOverlap": false, "labelFlush": false, "labelPadding": 5, "titlePadding": 3, "tickSize": {"condition": {"test": "indexof([1,10,100,1000,10000], datum.value) >= 0", "value": 4}, "value": 2}, "grid": true, "gridOpacity": {"condition": {"test": "indexof([10,100,1000], datum.value) >= 0", "value": 1}, "value": 0}}},
     "y": {"field": "y", "type": "quantitative", "title": "% of Max", "scale": {"domain": [0, 105], "nice": false}, "axis": {"values": [0,10,20,21,30,40,42,50,60,63,70,80,84,90,100], "labelExpr": "datum.value % 20 == 0 ? datum.label : ''", "labelPadding": 2, "titlePadding": 6, "tickSize": {"condition": {"test": "datum.value % 20 == 0", "value": 4}, "value": 2}, "tickOpacity": {"condition": {"test": "datum.value % 10 != 0", "value": 0}, "value": 1}, "grid": true, "gridOpacity": {"condition": {"test": "datum.value % 21 == 0 && datum.value > 0", "value": 1}, "value": 0}}},
     "color": {"field": "series", "type": "nominal", "scale": {"domain": ["red","blue","green","orange"], "range": ["#EE3B3B","#1E3CE6","#78DC40","#F0883C"]}, "legend": null},
     "order": {"value": null}}},
   {"width": 180, "height": 177, "data": {"name": "h"}, "transform": [{"filter": "datum.panel == 'MHC'"}], "mark": {"type": "line"},
    "encoding": {
     "x": {"field": "x", "type": "quantitative", "title": "MHC Class II", "scale": {"type": "log", "domain": [1, 10000]}, "axis": {"values": [1,2,3,4,5,6,7,8,9,10,20,30,40,50,60,70,80,90,100,200,300,400,500,600,700,800,900,1000,2000,3000,4000,5000,6000,7000,8000,9000,10000], "labelExpr": "datum.value==1?'10⁰':datum.value==10?'10¹':datum.value==100?'10²':datum.value==1000?'10³':datum.value==10000?'10⁴':''", "labelOverlap": false, "labelFlush": false, "labelPadding": 5, "titlePadding": 3, "tickSize": {"condition": {"test": "indexof([1,10,100,1000,10000], datum.value) >= 0", "value": 4}, "value": 2}, "grid": true, "gridOpacity": {"condition": {"test": "indexof([10,100,1000], datum.value) >= 0", "value": 1}, "value": 0}}},
     "y": {"field": "y", "type": "quantitative", "title": "% of Max", "scale": {"domain": [0, 105], "nice": false}, "axis": {"values": [0,10,20,21,30,40,42,50,60,63,70,80,84,90,100], "labelExpr": "datum.value % 20 == 0 ? datum.label : ''", "labelPadding": 2, "titlePadding": 6, "tickSize": {"condition": {"test": "datum.value % 20 == 0", "value": 4}, "value": 2}, "tickOpacity": {"condition": {"test": "datum.value % 10 != 0", "value": 0}, "value": 1}, "grid": true, "gridOpacity": {"condition": {"test": "datum.value % 21 == 0 && datum.value > 0", "value": 1}, "value": 0}}},
     "color": {"field": "series", "type": "nominal", "scale": {"domain": ["red","blue","green","orange"], "range": ["#EE3B3B","#1E3CE6","#78DC40","#F0883C"]}, "legend": null},
     "order": {"value": null}}},
   {"width": 180, "height": 177, "data": {"name": "h"}, "transform": [{"filter": "datum.panel == 'CD40'"}], "mark": {"type": "line"},
    "encoding": {
     "x": {"field": "x", "type": "quantitative", "title": "CD40", "scale": {"type": "log", "domain": [1, 10000]}, "axis": {"values": [1,2,3,4,5,6,7,8,9,10,20,30,40,50,60,70,80,90,100,200,300,400,500,600,700,800,900,1000,2000,3000,4000,5000,6000,7000,8000,9000,10000], "labelExpr": "datum.value==1?'10⁰':datum.value==10?'10¹':datum.value==100?'10²':datum.value==1000?'10³':datum.value==10000?'10⁴':''", "labelOverlap": false, "labelFlush": false, "labelPadding": 5, "titlePadding": 3, "tickSize": {"condition": {"test": "indexof([1,10,100,1000,10000], datum.value) >= 0", "value": 4}, "value": 2}, "grid": true, "gridOpacity": {"condition": {"test": "indexof([10,100,1000], datum.value) >= 0", "value": 1}, "value": 0}}},
     "y": {"field": "y", "type": "quantitative", "title": "% of Max", "scale": {"domain": [0, 105], "nice": false}, "axis": {"values": [0,10,20,21,30,40,42,50,60,63,70,80,84,90,100], "labelExpr": "datum.value % 20 == 0 ? datum.label : ''", "labelPadding": 2, "titlePadding": 6, "tickSize": {"condition": {"test": "datum.value % 20 == 0", "value": 4}, "value": 2}, "tickOpacity": {"condition": {"test": "datum.value % 10 != 0", "value": 0}, "value": 1}, "grid": true, "gridOpacity": {"condition": {"test": "datum.value % 21 == 0 && datum.value > 0", "value": 1}, "value": 0}}},
     "color": {"field": "series", "type": "nominal", "scale": {"domain": ["red","blue","green","orange"], "range": ["#EE3B3B","#1E3CE6","#78DC40","#F0883C"]}, "legend": null},
     "order": {"value": null}}}
    ]}
  ]},
 {"title": {"text": ["For all panels: Microglial fluorescence isolated from non-injected post-natal day 15 pups nursing", "with unmanipulated dams (orange, blue histograms) and with LPS-injected dams (green, red", "histograms). Fluorescence levels of microglia labeled with non-specific isotype control", "antibodies (orange, green histograms), Fluorescence levels of microglia labeled with antibodies", "against pro-inflammatory or anti-inflammatory activation markers (red, blue histograms)."], "font": "Open Sans", "fontStyle": "normal", "fontWeight": "normal", "fontSize": 16.6, "lineHeight": 22, "color": "#111111", "anchor": "start", "offset": 12, "dx": 6},
  "spacing": 0,
  "hconcat": [
   {"width": 11, "height": 1, "data": {"values": []}, "mark": {"type": "point", "opacity": 0}, "view": {"stroke": null}},
   {"spacing": 40,
    "hconcat": [
   {"width": 175, "height": 179, "data": {"name": "h"}, "transform": [{"filter": "datum.panel == 'TREM2'"}], "mark": {"type": "line"},
    "encoding": {
     "x": {"field": "x", "type": "quantitative", "title": "TREM2", "scale": {"type": "log", "domain": [1, 10000]}, "axis": {"values": [1,2,3,4,5,6,7,8,9,10,20,30,40,50,60,70,80,90,100,200,300,400,500,600,700,800,900,1000,2000,3000,4000,5000,6000,7000,8000,9000,10000], "labelExpr": "datum.value==1?'10⁰':datum.value==10?'10¹':datum.value==100?'10²':datum.value==1000?'10³':datum.value==10000?'10⁴':''", "labelOverlap": false, "labelFlush": false, "labelPadding": 5, "titlePadding": 3, "tickSize": {"condition": {"test": "indexof([1,10,100,1000,10000], datum.value) >= 0", "value": 4}, "value": 2}, "grid": true, "gridOpacity": {"condition": {"test": "indexof([10,100,1000], datum.value) >= 0", "value": 1}, "value": 0}}},
     "y": {"field": "y", "type": "quantitative", "title": "% of Max", "scale": {"domain": [0, 105], "nice": false}, "axis": {"values": [0,10,20,21,30,40,42,50,60,63,70,80,84,90,100], "labelExpr": "datum.value % 20 == 0 ? datum.label : ''", "labelPadding": 2, "titlePadding": 6, "tickSize": {"condition": {"test": "datum.value % 20 == 0", "value": 4}, "value": 2}, "tickOpacity": {"condition": {"test": "datum.value % 10 != 0", "value": 0}, "value": 1}, "grid": true, "gridOpacity": {"condition": {"test": "datum.value % 21 == 0 && datum.value > 0", "value": 1}, "value": 0}}},
     "color": {"field": "series", "type": "nominal", "scale": {"domain": ["red","blue","green","orange"], "range": ["#EE3B3B","#1E3CE6","#78DC40","#F0883C"]}, "legend": null},
     "order": {"value": null}}},
   {"width": 175, "height": 179, "data": {"name": "h"}, "transform": [{"filter": "datum.panel == 'MR'"}], "mark": {"type": "line"},
    "encoding": {
     "x": {"field": "x", "type": "quantitative", "title": "Mannose Receptor", "scale": {"type": "log", "domain": [1, 10000]}, "axis": {"values": [1,2,3,4,5,6,7,8,9,10,20,30,40,50,60,70,80,90,100,200,300,400,500,600,700,800,900,1000,2000,3000,4000,5000,6000,7000,8000,9000,10000], "labelExpr": "datum.value==1?'10⁰':datum.value==10?'10¹':datum.value==100?'10²':datum.value==1000?'10³':datum.value==10000?'10⁴':''", "labelOverlap": false, "labelFlush": false, "labelPadding": 5, "titlePadding": 3, "tickSize": {"condition": {"test": "indexof([1,10,100,1000,10000], datum.value) >= 0", "value": 4}, "value": 2}, "grid": true, "gridOpacity": {"condition": {"test": "indexof([10,100,1000], datum.value) >= 0", "value": 1}, "value": 0}}},
     "y": {"field": "y", "type": "quantitative", "title": "% of Max", "scale": {"domain": [0, 105], "nice": false}, "axis": {"values": [0,10,20,21,30,40,42,50,60,63,70,80,84,90,100], "labelExpr": "datum.value % 20 == 0 ? datum.label : ''", "labelPadding": 2, "titlePadding": 6, "tickSize": {"condition": {"test": "datum.value % 20 == 0", "value": 4}, "value": 2}, "tickOpacity": {"condition": {"test": "datum.value % 10 != 0", "value": 0}, "value": 1}, "grid": true, "gridOpacity": {"condition": {"test": "datum.value % 21 == 0 && datum.value > 0", "value": 1}, "value": 0}}},
     "color": {"field": "series", "type": "nominal", "scale": {"domain": ["red","blue","green","orange"], "range": ["#EE3B3B","#1E3CE6","#78DC40","#F0883C"]}, "legend": null},
     "order": {"value": null}}},
   {"width": 175, "height": 179, "data": {"name": "h"}, "transform": [{"filter": "datum.panel == 'PDL1'"}], "mark": {"type": "line"},
    "encoding": {
     "x": {"field": "x", "type": "quantitative", "title": "PD-L1", "scale": {"type": "log", "domain": [1, 10000]}, "axis": {"values": [1,2,3,4,5,6,7,8,9,10,20,30,40,50,60,70,80,90,100,200,300,400,500,600,700,800,900,1000,2000,3000,4000,5000,6000,7000,8000,9000,10000], "labelExpr": "datum.value==1?'10⁰':datum.value==10?'10¹':datum.value==100?'10²':datum.value==1000?'10³':datum.value==10000?'10⁴':''", "labelOverlap": false, "labelFlush": false, "labelPadding": 5, "titlePadding": 3, "tickSize": {"condition": {"test": "indexof([1,10,100,1000,10000], datum.value) >= 0", "value": 4}, "value": 2}, "grid": true, "gridOpacity": {"condition": {"test": "indexof([10,100,1000], datum.value) >= 0", "value": 1}, "value": 0}}},
     "y": {"field": "y", "type": "quantitative", "title": "% of Max", "scale": {"domain": [0, 105], "nice": false}, "axis": {"values": [0,10,20,21,30,40,42,50,60,63,70,80,84,90,100], "labelExpr": "datum.value % 20 == 0 ? datum.label : ''", "labelPadding": 2, "titlePadding": 6, "tickSize": {"condition": {"test": "datum.value % 20 == 0", "value": 4}, "value": 2}, "tickOpacity": {"condition": {"test": "datum.value % 10 != 0", "value": 0}, "value": 1}, "grid": true, "gridOpacity": {"condition": {"test": "datum.value % 21 == 0 && datum.value > 0", "value": 1}, "value": 0}}},
     "color": {"field": "series", "type": "nominal", "scale": {"domain": ["red","blue","green","orange"], "range": ["#EE3B3B","#1E3CE6","#78DC40","#F0883C"]}, "legend": null},
     "order": {"value": null}}}
    ]}
  ]}
]
}
